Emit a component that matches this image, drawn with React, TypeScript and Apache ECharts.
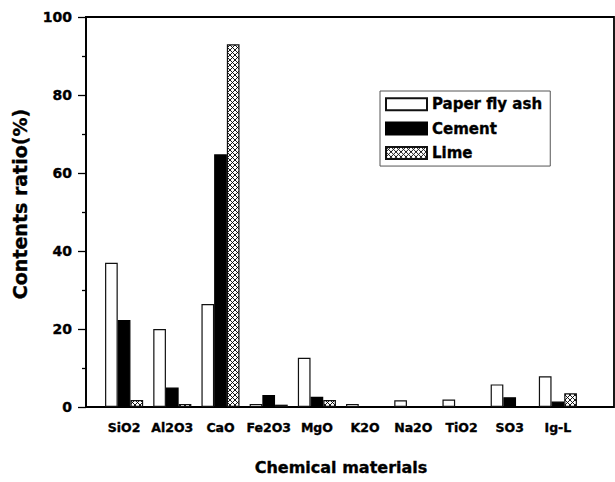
import React, { useEffect, useRef } from "react";
import * as echarts from "echarts";

const categories = ["SiO2", "Al2O3", "CaO", "Fe2O3", "MgO", "K2O", "Na2O", "TiO2", "SO3", "Ig-L"];
const paperFlyAsh = [37, 20, 26.4, 0.8, 12.6, 0.8, 1.7, 1.9, 5.8, 7.9];
const cement: (number | null)[] = [22.3, 5.0, 64.8, 3.1, 2.6, null, null, null, 2.5, 1.4];
const lime: (number | null)[] = [1.8, 0.8, 93, 0.6, 1.8, null, null, null, null, 3.5];
const seriesNames = ["Paper fly ash", "Cement", "Lime"];
const yTicks = { min: 0, max: 100, interval: 20 };

const FONT = "DejaVu Sans";
const heavy = { textBorderColor: "#000", textBorderWidth: 0.35 };

function makeHatch(): HTMLCanvasElement {
  const s = 5;
  const c = document.createElement("canvas");
  c.width = s;
  c.height = s;
  const ctx = c.getContext("2d")!;
  ctx.fillStyle = "#fff";
  ctx.fillRect(0, 0, s, s);
  ctx.strokeStyle = "#000";
  ctx.lineWidth = 0.9;
  ctx.beginPath();
  ctx.moveTo(0, 0);
  ctx.lineTo(s, s);
  ctx.moveTo(s, 0);
  ctx.lineTo(0, s);
  ctx.stroke();
  return c;
}

export default function App() {
  const ref = useRef<HTMLDivElement>(null);
  useEffect(() => {
    if (!ref.current) return;
    const chart = echarts.init(ref.current, undefined, { renderer: "svg" });
    const hatch = makeHatch();
    const barBase = {
      type: "bar" as const,
      xAxisIndex: 1,
      yAxisIndex: 1,
      barWidth: 12.7,
      barGap: "0%",
    };
    chart.setOption({
      animation: false,
      backgroundColor: "#fff",
      grid: [
        { left: 86, right: 1, top: 17, bottom: 75, show: true, borderColor: "#000", borderWidth: 1.8, backgroundColor: "transparent" },
        { left: 100, width: 482, top: 17, bottom: 75 },
      ],
      xAxis: [
        { gridIndex: 0, type: "value", min: 0, max: 1, show: false },
        {
          gridIndex: 1,
          type: "category",
          data: categories,
          axisLine: { show: false },
          axisTick: { show: false },
          axisLabel: { fontFamily: FONT, fontWeight: "bold", fontSize: 12.5, color: "#000", margin: 14, interval: 0, ...heavy },
          name: "Chemical materials",
          nameLocation: "middle",
          nameGap: 52,
          nameTextStyle: { fontFamily: FONT, fontWeight: "bold", fontSize: 16, color: "#000", ...heavy },
        },
      ],
      yAxis: [
        {
          gridIndex: 0,
          type: "value",
          min: yTicks.min,
          max: yTicks.max,
          interval: yTicks.interval,
          axisLine: { show: true, lineStyle: { color: "#000", width: 1.8 } },
          axisTick: { show: true, length: 8, lineStyle: { color: "#000", width: 1.3 } },
          minorTick: { show: true, splitNumber: 2, length: 4, lineStyle: { color: "#000", width: 1.3 } },
          splitLine: { show: false },
          axisLabel: { fontFamily: FONT, fontWeight: "bold", fontSize: 14, color: "#000", margin: 14, ...heavy },
        },
        { gridIndex: 1, type: "value", min: yTicks.min, max: yTicks.max, show: false },
      ],
      legend: {
        orient: "vertical",
        left: 380,
        top: 91,
        padding: [5.5, 8, 5.5, 5],
        borderColor: "#555",
        borderWidth: 1,
        itemWidth: 41,
        itemHeight: 12,
        itemGap: 9,
        icon: "rect",
        textStyle: { fontFamily: FONT, fontWeight: "bold", fontSize: 15, color: "#000", ...heavy },
        data: seriesNames,
      },
      graphic: [
        {
          type: "text",
          x: 20,
          y: 204,
          rotation: Math.PI / 2,
          style: {
            text: "Contents ratio(%)",
            fontFamily: FONT,
            fontWeight: "bold",
            fontSize: 19,
            fill: "#000",
            stroke: "#000",
            lineWidth: 0.35,
            textAlign: "center",
            textVerticalAlign: "middle",
          },
        },
      ],
      series: [
        {
          ...barBase,
          name: seriesNames[0],
          data: paperFlyAsh,
          itemStyle: { color: "#fff", borderColor: "#111", borderWidth: 1.2 },
        },
        {
          ...barBase,
          name: seriesNames[1],
          data: cement,
          itemStyle: { color: "#000", borderColor: "#000", borderWidth: 1.2 },
        },
        {
          ...barBase,
          name: seriesNames[2],
          data: lime,
          itemStyle: {
            color: { image: hatch, repeat: "repeat", imageWidth: 5, imageHeight: 5 },
            borderColor: "#111",
            borderWidth: 1.2,
          },
        },
      ],
    });
    return () => chart.dispose();
  }, []);
  return <div ref={ref} style={{ width: 615, height: 482, position: "absolute", left: 0, top: 0 }} />;
}
